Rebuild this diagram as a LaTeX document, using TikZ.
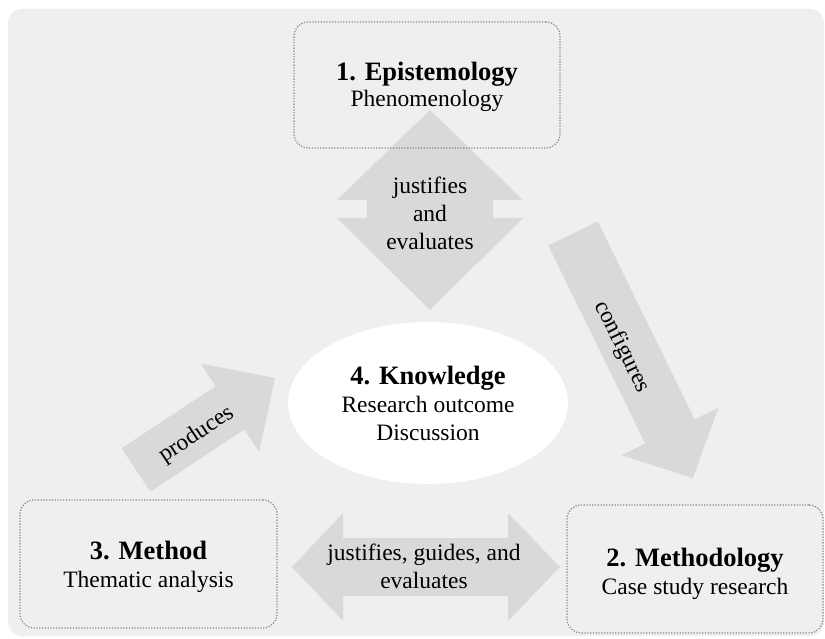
\documentclass[tikz,border=0pt]{standalone}
\usepackage{fontspec}
\setmainfont{Liberation Serif}
\usetikzlibrary{shapes.geometric,calc}
\definecolor{panel}{HTML}{EFEFEF}
\definecolor{flow}{HTML}{D9D9D9}
\definecolor{rim}{HTML}{8A8A8A}
\newcommand\headfont{\fontsize{26.5}{30}\selectfont\bfseries}
\newcommand\bodyfont{\fontsize{23.5}{28}\selectfont}

\begin{document}
\begin{tikzpicture}[x=1pt,y=1pt,
  stage/.style={draw=rim, line width=1.2pt, dash pattern=on 1.3pt off 1.5pt,
    rounded corners=14pt, inner sep=0pt},
  stagetext/.style={align=center, font=\bodyfont, inner sep=0pt},
  hub/.style={ellipse, fill=white, align=center, font=\bodyfont,
    minimum width=280pt, minimum height=162pt, inner sep=0pt},
  flowfill/.style={fill=flow},
  flowtext/.style={align=center, font=\bodyfont, inner sep=0pt}]

\useasboundingbox (0,0) rectangle (825,638);
% panel behind everything
\fill[panel, rounded corners=14pt] (8,2) rectangle (824,629);

% centres of the four stages
\coordinate (episC) at (427,553);
\coordinate (methodC) at (148.5,74);
\coordinate (methodologyC) at (695,69);
\coordinate (knowC) at (428,235);

% two-headed vertical arrow: epistemology <-> knowledge
\coordinate (vmid) at (430,429);
\fill[flowfill] ($(vmid)+(0,99)$) -- ($(vmid)+(93,9)$) -- ($(vmid)+(63,9)$)
  -- ($(vmid)+(63,-9)$) -- ($(vmid)+(93,-9)$) -- ($(vmid)+(0,-101)$)
  -- ($(vmid)+(-93,-9)$) -- ($(vmid)+(-63,-9)$) -- ($(vmid)+(-63,9)$)
  -- ($(vmid)+(-93,9)$) -- cycle;
\node[flowtext] (justifyLabel) at (430,425) {justifies\\and\\evaluates};

% two-headed horizontal arrow: method <-> methodology
\coordinate (hmid) at (426,71);
\fill[flowfill] ($(hmid)+(-134,0)$) -- ($(hmid)+(-83,54)$) -- ($(hmid)+(-83,29)$)
  -- ($(hmid)+(82,29)$) -- ($(hmid)+(82,54)$) -- ($(hmid)+(134,0)$)
  -- ($(hmid)+(82,-54)$) -- ($(hmid)+(82,-29)$) -- ($(hmid)+(-83,-29)$)
  -- ($(hmid)+(-83,-54)$) -- cycle;
\node[flowtext] (guideLabel) at (424,72) {justifies, guides, and\\evaluates};

% method -> knowledge
\coordinate (prodTail) at (136,168);
\begin{scope}[shift={(prodTail)}, rotate=33.5]
  \fill[flowfill] (0,-26) -- (112.7,-26) -- (112.7,-53) -- (166.7,0)
    -- (112.7,53) -- (112.7,26) -- (0,26) -- cycle;
  \node[flowtext, transform shape] (produceLabel) at (70,-4) {produces};
\end{scope}

% epistemology -> methodology
\coordinate (confTail) at (573,404.5);
\begin{scope}[shift={(confTail)}, rotate=-63.9]
  \fill[flowfill] (0,-27.5) -- (220.4,-27.5) -- (220.4,-54) -- (272.4,0)
    -- (220.4,54) -- (220.4,27.5) -- (0,27.5) -- cycle;
  \node[flowtext, transform shape] (configLabel) at (123.5,-6) {configures};
\end{scope}

% the four stages
\node[hub] (know) at (knowC)
  {{\headfont 4. Knowledge}\\Research outcome\\Discussion};
\node[stage, minimum width=266pt, minimum height=126pt] (epis) at (episC) {};
\node[stage, minimum width=257pt, minimum height=128pt] (method) at (methodC) {};
\node[stage, minimum width=256pt, minimum height=128pt] (methodology) at (methodologyC) {};

\node[stagetext] (episText) at ($(epis.center)+(0,-2)$)
  {{\headfont 1. Epistemology}\\[-2pt]Phenomenology};
\node[stagetext] (methodText) at ($(method.center)+(0,-3)$)
  {{\headfont 3. Method}\\Thematic analysis};
\node[stagetext] (methodologyText) at ($(methodology.center)+(0,-5)$)
  {{\headfont 2. Methodology}\\Case study research};
\end{tikzpicture}
\end{document}
